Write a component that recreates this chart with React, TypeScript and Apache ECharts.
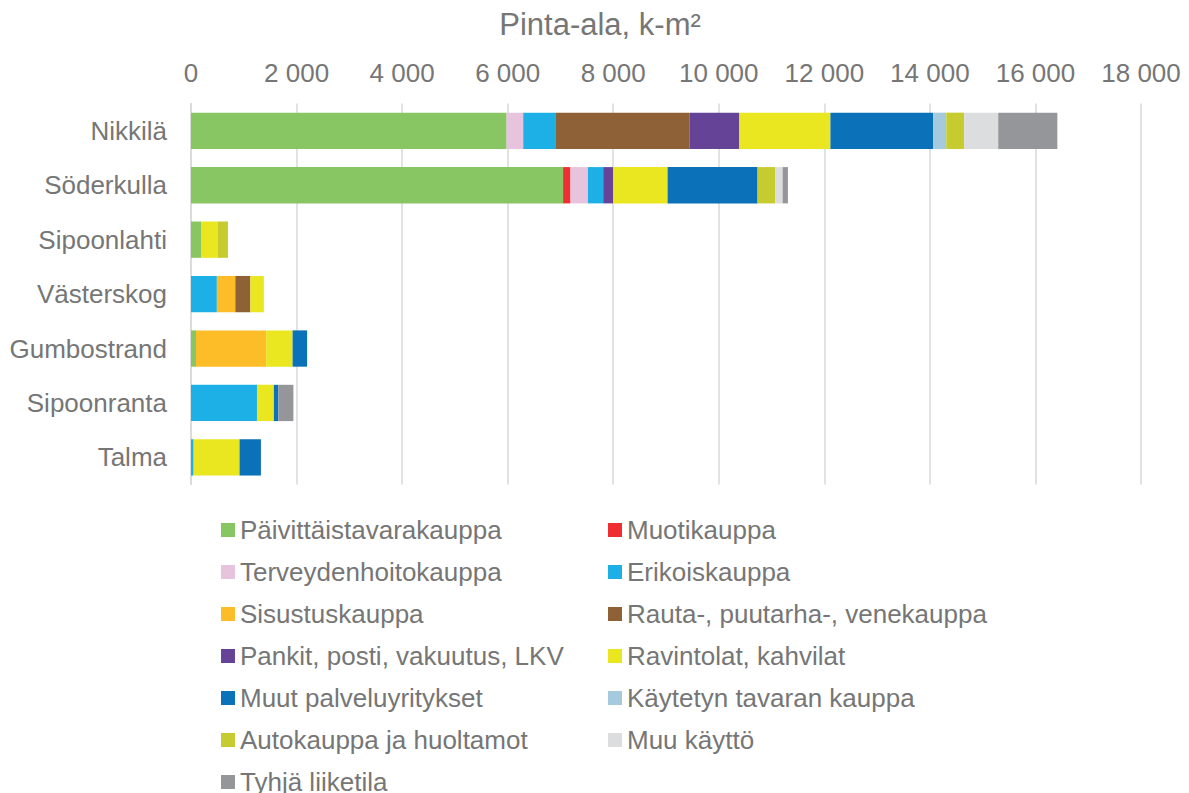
import React, { useEffect, useRef } from "react";
import * as echarts from "echarts";

const categories = ["Nikkilä", "Söderkulla", "Sipoonlahti", "Västerskog", "Gumbostrand", "Sipoonranta", "Talma"];

const seriesNames = [
  "Päivittäistavarakauppa",
  "Muotikauppa",
  "Terveydenhoitokauppa",
  "Erikoiskauppa",
  "Sisustuskauppa",
  "Rauta-, puutarha-, venekauppa",
  "Pankit, posti, vakuutus, LKV",
  "Ravintolat, kahvilat",
  "Muut palveluyritykset",
  "Käytetyn tavaran kauppa",
  "Autokauppa ja huoltamot",
  "Muu käyttö",
  "Tyhjä liiketila",
];

const seriesColors = [
  "#88C663",
  "#EE2E31",
  "#E8C3DD",
  "#1CB0E6",
  "#FDBD28",
  "#8E6137",
  "#654498",
  "#EAE61F",
  "#0B72BA",
  "#A6CADD",
  "#C6CC2F",
  "#DCDDDF",
  "#95969A",
];

const paivittaistavara = [5980, 7050, 190, 0, 95, 0, 0];
const muoti = [0, 140, 0, 0, 0, 0, 0];
const terveydenhoito = [315, 330, 0, 0, 0, 0, 0];
const erikois = [620, 290, 0, 490, 0, 1250, 50];
const sisustus = [0, 0, 0, 350, 1330, 0, 0];
const rauta = [2535, 0, 0, 285, 0, 0, 0];
const pankit = [940, 190, 0, 0, 0, 0, 0];
const ravintolat = [1725, 1030, 320, 255, 500, 320, 870];
const muutPalvelu = [1950, 1705, 0, 0, 275, 85, 405];
const kaytetyn = [245, 0, 0, 0, 0, 0, 0];
const autokauppa = [340, 335, 190, 0, 0, 0, 0];
const muuKaytto = [645, 140, 0, 0, 0, 0, 0];
const tyhja = [1120, 100, 0, 0, 0, 285, 0];

const seriesValues = [
  paivittaistavara, muoti, terveydenhoito, erikois, sisustus, rauta, pankit,
  ravintolat, muutPalvelu, kaytetyn, autokauppa, muuKaytto, tyhja,
];

const titleText = "Pinta-ala, k-m²";
const xMin = 0;
const xMax = 18000;
const xInterval = 2000;

const FONT = "'Liberation Sans', Arial, sans-serif";
const TEXT_COLOR = "#767676";

export default function App() {
  const ref = useRef<HTMLDivElement>(null);

  useEffect(() => {
    if (!ref.current) return;
    const chart = echarts.init(ref.current, null, { renderer: "svg" });

    const col1 = seriesNames.filter((_, i) => i % 2 === 0);
    const col2 = seriesNames.filter((_, i) => i % 2 === 1);

    const legendBase = {
      orient: "vertical",
      top: 516,
      height: 400,
      padding: 0,
      itemWidth: 14,
      itemHeight: 14,
      itemGap: 14,
      icon: "rect",
      selectedMode: false,
      textStyle: { fontSize: 26, color: TEXT_COLOR, fontFamily: FONT, lineHeight: 28 },
    };

    const option: any = {
      animation: false,
      backgroundColor: "#ffffff",
      color: seriesColors,
      graphic: [
        {
          type: "text",
          x: 600,
          y: 24,
          style: {
            text: titleText,
            fontSize: 31,
            fontFamily: FONT,
            fill: TEXT_COLOR,
            textAlign: "center",
            textVerticalAlign: "middle",
          },
        },
      ],
      legend: [
        { ...legendBase, left: 221, data: col1 },
        { ...legendBase, left: 608, data: col2 },
      ],
      grid: {
        left: 191,
        right: 48,
        top: 103.6,
        height: 381,
        containLabel: false,
        outerBoundsMode: "none",
      },
      xAxis: {
        type: "value",
        position: "top",
        min: xMin,
        max: xMax,
        interval: xInterval,
        axisLine: { show: false },
        axisTick: { show: false },
        splitLine: { show: true, lineStyle: { color: "#D9D9D9", width: 1.5 } },
        axisLabel: {
          fontSize: 26,
          color: TEXT_COLOR,
          fontFamily: FONT,
          margin: 18,
          formatter: (v: number) => (v === 0 ? "0" : `${Math.round(v / 1000)} 000`),
        },
      },
      yAxis: {
        type: "category",
        data: categories,
        inverse: true,
        axisLine: { show: true, lineStyle: { color: "#D9D9D9", width: 1.5 } },
        axisTick: { show: false },
        axisLabel: { fontSize: 26, color: TEXT_COLOR, fontFamily: FONT, margin: 24 },
      },
      series: seriesNames.map((name, i) => ({
        name,
        type: "bar",
        stack: "total",
        barCategoryGap: "33.3%",
        data: seriesValues[i],
        itemStyle: { color: seriesColors[i] },
      })),
    };

    chart.setOption(option);
    return () => chart.dispose();
  }, []);

  return (
    <div
      ref={ref}
      style={{ position: "fixed", left: 0, top: 0, width: 1189, height: 793, background: "#fff" }}
    />
  );
}
